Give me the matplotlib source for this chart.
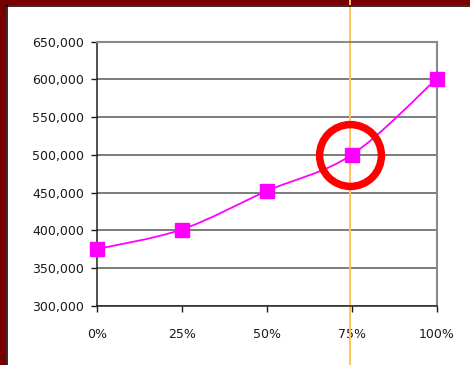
import numpy as np
import matplotlib
matplotlib.use("Agg")
import matplotlib.pyplot as plt
from matplotlib.path import Path
from matplotlib.patches import PathPatch, Rectangle
from matplotlib.lines import Line2D
from matplotlib.ticker import PercentFormatter, FuncFormatter
import matplotlib.transforms as mtransforms

# data
pct = [0.0, 0.25, 0.50, 0.75, 1.00]
values = [375000, 401000, 452000, 500000, 601000]
y_ticks = [300000, 350000, 400000, 450000, 500000, 550000, 600000, 650000]
marker_x = 0.745  # highlighted point (orange line + red circle)
marker_y = 500000

plt.rcParams['font.family'] = ['DejaVu Sans']

fig = plt.figure(figsize=(4.7, 3.65), dpi=100)
fig.patch.set_facecolor('white')

# dark red frame at the left and top of the slide
fig.add_artist(Rectangle((0, 0), 6 / 470, 1, transform=fig.transFigure,
                         facecolor='#760000', edgecolor='none', zorder=0))
fig.add_artist(Rectangle((0, 1 - 5 / 365), 1, 5 / 365, transform=fig.transFigure,
                         facecolor='#760000', edgecolor='none', zorder=0))
fig.add_artist(Line2D([6.8 / 470, 6.8 / 470], [0, 1 - 5 / 365], transform=fig.transFigure,
                      color='#1a0000', lw=1.2, zorder=1))
fig.add_artist(Line2D([6 / 470, 1], [1 - 5.8 / 365, 1 - 5.8 / 365], transform=fig.transFigure,
                      color='#1a0000', lw=1.2, zorder=1))

ax = fig.add_axes([96.7 / 470, 59.3 / 365, 340 / 470, 264 / 365])
ax.set_xlim(0, 1)
ax.set_ylim(300000, 650000)
ax.set_xticks(pct)
ax.set_yticks(y_ticks)
ax.xaxis.set_major_formatter(PercentFormatter(1.0, decimals=0))
ax.yaxis.set_major_formatter(FuncFormatter(lambda v, p: f"{int(v):,}"))
ax.grid(axis='y', color='#666666', lw=1.2)
ax.set_axisbelow(True)
for s in ['top', 'right']:
    ax.spines[s].set_color('#8a8a8a')
    ax.spines[s].set_linewidth(1.5)
for s in ['left', 'bottom']:
    ax.spines[s].set_color('#222222')
    ax.spines[s].set_linewidth(1.1)
ax.tick_params(axis='y', length=4, width=1, pad=5, labelsize=9, colors='#1a1a1a')
ax.tick_params(axis='x', length=4, width=1, pad=12, labelsize=9, colors='#1a1a1a')

# smoothed line (Catmull-Rom style bezier through the points)
pts = np.column_stack([pct, values]).astype(float)
ext = np.vstack([pts[0], pts, pts[-1]])
verts = [tuple(pts[0])]
codes = [Path.MOVETO]
for i in range(len(pts) - 1):
    p0, p1, p2, p3 = ext[i], ext[i + 1], ext[i + 2], ext[i + 3]
    c1 = p1 + (p2 - p0) / 6
    c2 = p2 - (p3 - p1) / 6
    verts += [tuple(c1), tuple(c2), tuple(p2)]
    codes += [Path.CURVE4] * 3
ax.add_patch(PathPatch(Path(verts, codes), facecolor='none', edgecolor='#ff00ff',
                       lw=1.3, zorder=3))
ax.plot(pct, values, 's', color='#ff00ff', markersize=10, zorder=4, clip_on=False)

# orange vertical line across the whole slide
trans = mtransforms.blended_transform_factory(ax.transData, fig.transFigure)
ax.plot([marker_x, marker_x], [0, 1], transform=trans, color='#ffc35a', lw=1.4,
        clip_on=False, zorder=2)

# red circle around the highlighted point
ax.plot([marker_x], [marker_y], 'o', markersize=44.5, markerfacecolor='none',
        markeredgecolor='#ff0000', markeredgewidth=5.4, zorder=5, clip_on=False)

fig.savefig('out.png', dpi=100)
